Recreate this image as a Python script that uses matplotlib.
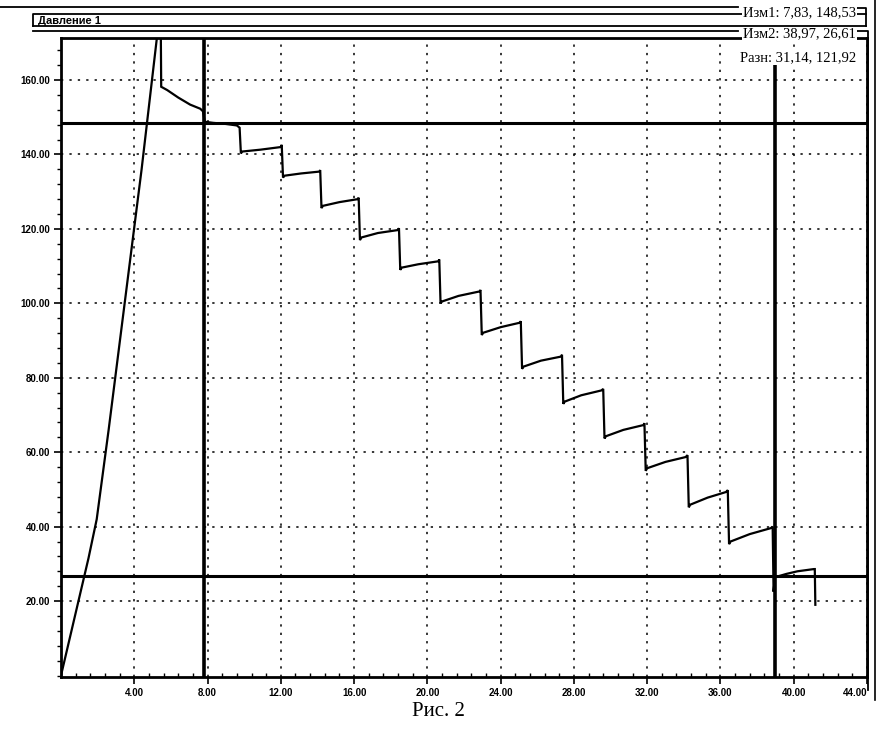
import matplotlib
matplotlib.use('Agg')
import matplotlib.pyplot as plt
from matplotlib.lines import Line2D
from matplotlib.ticker import MultipleLocator, FormatStrFormatter

_W, _H = 877, 740

# Pressure curve (time, pressure)
time_h = [0.0, 0.5, 1.0, 1.5, 1.95, 2.6, 3.5, 4.4, 5.25, 5.45, 5.47, 5.8, 6.4, 7.05, 7.6, 7.75, 7.85, 8.3, 9.0, 9.6, 9.75,
          9.82, 9.9, 10.9, 12.0, 12.05,
          12.12, 12.2, 13.1, 14.1, 14.15,
          14.22, 14.3, 15.2, 16.2, 16.25,
          16.32, 16.4, 17.3, 18.4, 18.45,
          18.52, 18.6, 19.5, 20.6, 20.65,
          20.72, 20.8, 21.7, 22.85, 22.9,
          22.97, 23.05, 24.0, 25.05, 25.1,
          25.17, 25.25, 26.2, 27.3, 27.35,
          27.42, 27.5, 28.4, 29.5, 29.6,
          29.67, 29.75, 30.7, 31.8, 31.85,
          31.92, 32.0, 33.0, 34.1, 34.2,
          34.27, 34.35, 35.3, 36.3, 36.4,
          36.47, 36.55, 37.6, 38.75, 38.85,
          38.9, 38.97, 39.6, 40.2, 41.1, 41.15, 41.18]
pressure = [0.0, 10.5, 21.0, 31.5, 42.0, 66.0, 101.0, 136.0, 172.0, 172.0, 158.2, 157.3, 155.3, 153.4, 152.3, 151.6, 148.8, 148.5, 148.2, 147.8, 147.2,
            140.3, 140.8, 141.3, 142.0, 142.6,
            133.8, 134.3, 134.9, 135.4, 135.8,
            125.6, 126.2, 127.2, 128.0, 128.4,
            117.0, 117.7, 118.9, 119.7, 120.2,
            109.0, 109.6, 110.5, 111.3, 111.8,
            100.0, 100.5, 102.0, 103.2, 103.6,
            91.5, 92.1, 93.6, 94.8, 95.2,
            82.4, 83.0, 84.6, 85.7, 86.2,
            73.0, 73.6, 75.3, 76.6, 77.0,
            63.7, 64.3, 66.0, 67.3, 67.8,
            55.0, 55.7, 57.4, 58.7, 59.2,
            45.2, 45.9, 47.8, 49.3, 49.8,
            35.3, 36.0, 38.0, 39.6, 40.0,
            22.5, 26.4, 27.3, 28.0, 28.6, 28.6, 19.0]

# Cursors
cursor1 = (7.83, 148.53)
cursor2 = (38.97, 26.61)
cursor2_top = 164.0
title = 'Давление 1'
cursor_texts = ['Изм1: 7,83, 148,53', 'Изм2: 38,97, 26,61', 'Разн: 31,14, 121,92']
caption = 'Рис. 2'

x_ticks = [4, 8, 12, 16, 20, 24, 28, 32, 36, 40, 44]
y_ticks = [20, 40, 60, 80, 100, 120, 140, 160]
x_min, x_max = 0.0, 44.0
y_min, y_max = -0.4, 171.3


def fx(px):
    return px / _W


def fy(py):
    return 1 - py / _H


fig = plt.figure(figsize=(_W / 100, _H / 100), dpi=100)
fig.patch.set_facecolor('white')
ax = fig.add_axes([fx(61), fy(677), fx(867) - fx(61), fy(38) - fy(677)])

ax.set_xlim(x_min, x_max)
ax.set_ylim(y_min, y_max)

# Ticks and grid
ax.set_xticks(x_ticks)
ax.set_yticks(y_ticks)
ax.xaxis.set_minor_locator(MultipleLocator(0.8))
ax.yaxis.set_minor_locator(MultipleLocator(4))
ax.grid(True, which='major', color='black', linestyle=(0, (1.5, 4)), linewidth=1.1)

fmt = FormatStrFormatter('%.2f')
ax.xaxis.set_major_formatter(fmt)
ax.yaxis.set_major_formatter(fmt)
ax.tick_params(axis='both', which='major', direction='out', length=5, width=1.2,
               labelsize=7, pad=3)
ax.tick_params(axis='x', which='minor', direction='in', length=3, width=1)
ax.tick_params(axis='y', which='minor', direction='out', length=3, width=1)
for lab in ax.get_xticklabels() + ax.get_yticklabels():
    lab.set_fontweight('bold')
    lab.set_family('Liberation Sans')
# last label sits on the frame edge
ax.get_xticklabels()[-1].set_horizontalalignment('right')

for sp in ax.spines.values():
    sp.set_linewidth(2)
    sp.set_color('black')

# Data curve
ax.plot(time_h, pressure, color='black', linewidth=1.6, solid_joinstyle='miter')

# Cursor lines
ax.axvline(cursor1[0], color='black', linewidth=2.6)
ax.axvline(cursor2[0], ymax=(cursor2_top - y_min) / (y_max - y_min), color='black', linewidth=2.6)
ax.axhline(cursor1[1], color='black', linewidth=2.2)
ax.axhline(cursor2[1], color='black', linewidth=2.2)

# Header frame
lw = 1.3
fig.add_artist(Line2D([fx(0), fx(738)], [fy(7), fy(7)], color='black', linewidth=lw))
fig.add_artist(Line2D([fx(857), fx(866), fx(866)], [fy(8), fy(8), fy(26)], color='black', linewidth=lw))
fig.add_artist(Line2D([fx(33), fx(866)], [fy(26), fy(26)], color='black', linewidth=lw))
fig.add_artist(Line2D([fx(33), fx(33), fx(866)], [fy(26), fy(14), fy(14)], color='black', linewidth=lw))
fig.add_artist(Line2D([fx(33), fx(738)], [fy(31), fy(31)], color='black', linewidth=lw))
fig.add_artist(Line2D([fx(857), fx(868), fx(868)], [fy(31), fy(31), fy(690)], color='black', linewidth=lw))
fig.add_artist(Line2D([fx(875), fx(875)], [fy(0), fy(700)], color='black', linewidth=1.2))

fig.text(fx(38), fy(21), title, fontsize=8, fontweight='bold', family='Liberation Sans',
         va='center', ha='left')

serif = 'Liberation Serif'
bbox = dict(facecolor='white', edgecolor='none', pad=0.5)
fig.text(fx(856), fy(13), cursor_texts[0], fontsize=10.5, family=serif, ha='right', va='center', bbox=bbox)
fig.text(fx(856), fy(34), cursor_texts[1], fontsize=10.5, family=serif, ha='right', va='center', bbox=bbox)
fig.text(fx(856), fy(58), cursor_texts[2], fontsize=10.5, family=serif, ha='right', va='center', bbox=bbox)

fig.text(fx(438), fy(712), caption, fontsize=15, family=serif, ha='center', va='center')

fig.savefig('out.png', dpi=100)
plt.close(fig)
